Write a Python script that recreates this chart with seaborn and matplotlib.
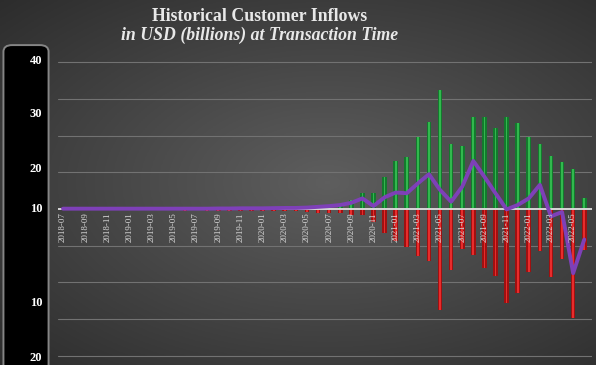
import numpy as np
import pandas as pd
import matplotlib
matplotlib.use("Agg")
import matplotlib.pyplot as plt
from matplotlib.patches import FancyBboxPatch
import seaborn as sns

months = [
    "2018-07", "2018-08", "2018-09", "2018-10", "2018-11", "2018-12",
    "2019-01", "2019-02", "2019-03", "2019-04", "2019-05", "2019-06",
    "2019-07", "2019-08", "2019-09", "2019-10", "2019-11", "2019-12",
    "2020-01", "2020-02", "2020-03", "2020-04", "2020-05", "2020-06",
    "2020-07", "2020-08", "2020-09", "2020-10", "2020-11", "2020-12",
    "2021-01", "2021-02", "2021-03", "2021-04", "2021-05", "2021-06",
    "2021-07", "2021-08", "2021-09", "2021-10", "2021-11", "2021-12",
    "2022-01", "2022-02", "2022-03", "2022-04", "2022-05", "2022-06",
]
inflows = [
    0.1, 0.05, 0.05, 0.1, 0.1, 0.1, 0.15, 0.1, 0.15, 0.2, 0.2, 0.3,
    0.3, 0.3, 0.3, 0.3, 0.35, 0.4, 0.4, 0.5, 0.9, 0.6, 0.5, 0.6,
    0.8, 1.5, 2.5, 4.3, 4.4, 8.8, 13.1, 14.1, 19.7, 23.6, 32.4, 17.7,
    17.3, 25.2, 25.0, 22.0, 25.0, 23.5, 19.5, 17.6, 14.4, 12.7, 11.0, 2.9,
]
outflows = [
    0.0, -0.05, -0.05, -0.05, -0.1, -0.1, -0.1, -0.1, -0.15, -0.2, -0.3, -0.4,
    -0.3, -0.4, -0.4, -0.5, -0.5, -0.5, -0.5, -0.6, -0.6, -0.6, -0.9, -1.0,
    -1.0, -1.2, -1.6, -1.6, -3.6, -6.6, -8.6, -10.4, -12.9, -14.1, -27.5, -16.6,
    -11.0, -12.4, -16.2, -18.3, -25.7, -23.0, -17.1, -11.4, -18.6, -13.7, -29.8, -11.2,
]
net_flow = [
    0.1, 0.1, 0.1, 0.1, 0.1, 0.1, 0.1, 0.1, 0.1, 0.1, 0.1, 0.1,
    0.1, 0.1, 0.15, 0.15, 0.2, 0.2, 0.2, 0.25, 0.3, 0.3, 0.4, 0.6,
    0.8, 1.1, 1.7, 2.9, 0.8, 3.2, 4.5, 4.3, 7.0, 9.5, 5.2, 2.0,
    6.1, 13.1, 8.8, 4.3, -0.1, 1.1, 2.9, 6.6, -2.0, -0.8, -17.5, -8.3,
]
panel_tick_pos = [40.5, 26, 11, 0, -25.5, -40.5]
panel_tick_labels = ["40", "30", "20", "10", "10", "20"]
grid_levels = [-40, -30, -20, -10, 10, 20, 30, 40]

df = pd.DataFrame({"month": months, "inflow": inflows,
                   "outflow": outflows, "net": net_flow})
df["pos"] = np.arange(len(df))

sns.set_theme(style="dark")
plt.rcParams["font.family"] = ["Liberation Serif", "DejaVu Serif"]

W, H = 596, 365
fig = plt.figure(figsize=(W / 100, H / 100), dpi=100)

# background gradient
bg = fig.add_axes([0, 0, 1, 1], zorder=-10)
yy, xx = np.mgrid[0:1:200j, 0:1:300j]
r = np.sqrt(((xx - 0.55) / 0.75) ** 2 + ((yy - 0.5) / 0.7) ** 2)
val = np.clip(0.37 - 0.19 * r, 0.16, 0.4)
bg.imshow(np.dstack([val, val, val]), extent=[0, 1, 0, 1], aspect="auto",
          origin="upper")
bg.axis("off")

ylo, yhi = -42.5, 44.7
top_px = 45
ax = fig.add_axes([58 / W, 0, (592 - 58) / W, (H - top_px) / H])
ax.patch.set_alpha(0)

# bars: dark body + bright highlight
bar_kw = dict(saturation=1, ax=ax, linewidth=0, edgecolor="none")
sns.barplot(data=df, x="month", y="inflow", color="#137a2d", width=0.42,
            zorder=2, **bar_kw)
sns.barplot(data=df, x="month", y="outflow", color="#a01010", width=0.42,
            zorder=2, **bar_kw)
sns.barplot(data=df, x="month", y="inflow", color="#32b84e", width=0.16,
            zorder=3, **bar_kw)
sns.barplot(data=df, x="month", y="outflow", color="#e82c2c", width=0.16,
            zorder=3, **bar_kw)

for g in grid_levels:
    ax.axhline(g, color="#727272", lw=0.8, zorder=1)
ax.axhline(0, color="#d6d6d6", lw=1.4, zorder=4)

sns.lineplot(data=df, x="pos", y="net", color="#7e40b8", lw=2.8, ax=ax,
             zorder=5)

ax.set_xlim(-0.45, 47.7)
ax.set_ylim(ylo, yhi)
ax.set_xticks([])
ax.set_yticks([])
ax.set_xlabel("")
ax.set_ylabel("")
for s in ax.spines.values():
    s.set_visible(False)

for i, m in enumerate(months):
    if i % 2 == 0:
        ax.text(i, -0.9, m, rotation=90, ha="center", va="top",
                fontsize=6.5, color="#d8d8d8", zorder=6)

# left black panel
pax = fig.add_axes([2 / W, 0, 48 / W, (H - top_px + 1) / H])
pax.set_xlim(0, 1)
pax.set_ylim(ylo, yhi + 0.3)
pax.axis("off")
panel = FancyBboxPatch((0.03, ylo - 10), 0.94, (yhi - ylo) + 10,
                       boxstyle="round,pad=0,rounding_size=0.18",
                       mutation_aspect=10,
                       facecolor="black", edgecolor="#858585", lw=1.4,
                       transform=pax.transData, clip_on=False)
pax.add_patch(panel)
for p, lab in zip(panel_tick_pos, panel_tick_labels):
    pax.text(0.84, p, lab, ha="right", va="center", fontsize=9,
             fontweight="bold", color="white")

fig.text(0.436, 0.956, "Historical Customer Inflows", ha="center",
         va="center", fontsize=12.8, fontweight="bold", color="#e8e8e8")
fig.text(0.436, 0.903, "in USD (billions) at Transaction Time",
         ha="center", va="center", fontsize=12.8, fontweight="bold",
         style="italic", color="#e8e8e8")

fig.savefig("out.png", dpi=100)
